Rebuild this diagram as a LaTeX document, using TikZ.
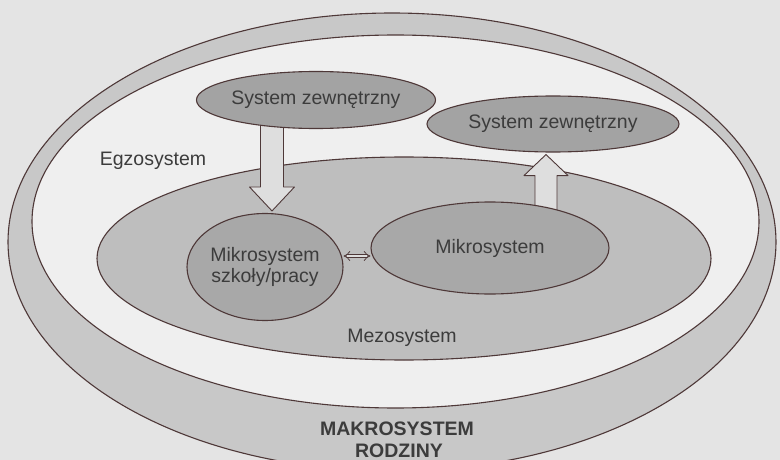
\documentclass[tikz,border=0pt]{standalone}
\usepackage{fontspec}
\setmainfont{Liberation Sans}
\usepackage{xcolor}
\usetikzlibrary{arrows.meta,shapes.geometric,calc}
\pgfdeclarelayer{foreground}
\pgfsetlayers{main,foreground}
\definecolor{pagebg}{HTML}{E4E4E4}
\definecolor{rimline}{HTML}{4E3838}
\definecolor{makrofill}{HTML}{C8C8C8}
\definecolor{egzofill}{HTML}{EFEFEF}
\definecolor{mezofill}{HTML}{BEBEBE}
\definecolor{mikrofill}{HTML}{A8A8A8}
\definecolor{zewnfill}{HTML}{A3A3A3}
\definecolor{arrowfill}{HTML}{DEDEDE}
\definecolor{labeltext}{HTML}{3C3C3C}
\tikzset{
  sfera/.style={ellipse,draw=rimline,line width=1.1pt,inner sep=0pt,text=labeltext,
    font=\fontsize{19.5}{21}\selectfont,align=center},
  blok/.style={draw=rimline,line width=0.9pt,fill=arrowfill},
  napis/.style={text=labeltext,font=\fontsize{19.5}{21}\selectfont,align=center}
}

\begin{document}
\begin{tikzpicture}[line cap=round,line join=round,x=1pt,y=-1pt]
    \fill [pagebg] (0,0) rectangle (780,460);
    \useasboundingbox (0,0) rectangle (780,460);
    \node [sfera,fill=makrofill,minimum width=768pt,minimum height=458pt] (makro) at (392,242) {};
    \node [sfera,fill=egzofill,minimum width=727pt,minimum height=373pt] (egzo) at (395.5,221.5) {};
    \node [sfera,fill=mezofill,minimum width=614pt,minimum height=203pt] (mezo) at (404,258.5) {};
    \begin{pgfonlayer}{foreground}
        \node [sfera,fill=zewnfill,minimum width=238pt,minimum height=57pt] (zewn1) at (316,100) {System zewnętrzny};
        \node [sfera,fill=zewnfill,minimum width=252pt,minimum height=56pt] (zewn2) at (553,124) {System zewnętrzny};
        \node [sfera,fill=mikrofill,minimum width=156pt,minimum height=107pt] (mss) at (265,267) {Mikrosystem\\szkoły/pracy};
        \node [sfera,fill=mikrofill,minimum width=238pt,minimum height=92pt] (mk) at (490,248) {Mikrosystem};
    \end{pgfonlayer}
    \coordinate (dGora) at ($(zewn1.center)+(-44,0)$);
    \coordinate (dDol) at ($(mss.north)+(7,-2)$);
    \draw [blok] ($(dGora)+(-11.5,0)$) -- ($(dDol)+(-11.5,-24)$) -- ($(dDol)+(-22.5,-24)$) -- (dDol)
        -- ($(dDol)+(22.5,-24)$) -- ($(dDol)+(11.5,-24)$) -- ($(dGora)+(11.5,0)$) -- cycle;
    \coordinate (gDol) at ($(mk.center)+(56,0)$);
    \coordinate (gGora) at ($(zewn2.south)+(-7,2)$);
    \draw [blok] ($(gDol)+(-11,0)$) -- ($(gGora)+(-11,21)$) -- ($(gGora)+(-22,21)$) -- (gGora)
        -- ($(gGora)+(22,21)$) -- ($(gGora)+(11,21)$) -- ($(gDol)+(11,0)$) -- cycle;
    \coordinate (pLewy) at ($(mss.east)+(0,-11)$);
    \coordinate (pPrawy) at ($(mk.west)+(0,8)$);
    \draw [draw=rimline,line width=0.7pt,double=arrowfill,double distance=2.8pt,{Implies}-{Implies}] (pLewy) -- (pPrawy);
    \node [napis] (egzoLabel) at (153,161) {Egzosystem};
    \node [napis] (mezoLabel) at (402,338) {Mezosystem};
    \node [napis,anchor=base,font=\fontsize{19.5}{21}\selectfont\bfseries] (makroLabel) at (397,435) {MAKROSYSTEM};
    \node [napis,anchor=base,font=\fontsize{19.5}{21}\selectfont\bfseries] (rodzLabel) at (399,457) {RODZINY};
\end{tikzpicture}
\end{document}
